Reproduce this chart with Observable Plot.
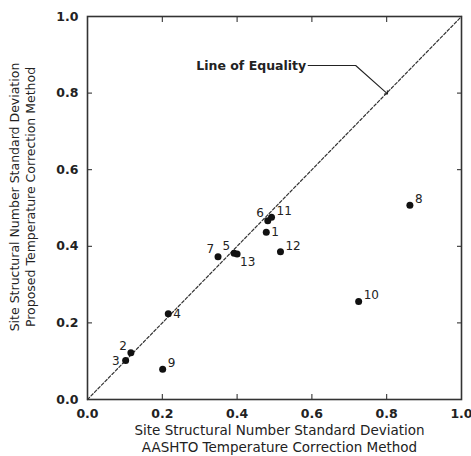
<!DOCTYPE html>
<html><head><meta charset="utf-8">
<script src="https://cdn.jsdelivr.net/npm/d3@7"></script>
<script src="https://cdn.jsdelivr.net/npm/@observablehq/plot@0.6"></script>
<style>
html,body{margin:0;padding:0;background:#fff;}
#chart{width:471px;height:456px;}
</style>
</head><body><div id="chart"></div>
<script>
// Site ids
const siteIds = ["1","2","3","4","5","6","7","8","9","10","11","12","13"];
// AASHTO method SN std dev (x)
const aashto = [0.478, 0.116, 0.102, 0.216, 0.392, 0.482, 0.349, 0.862, 0.201, 0.725, 0.492, 0.516, 0.400];
// Proposed method SN std dev (y)
const proposed = [0.437, 0.122, 0.102, 0.224, 0.382, 0.467, 0.373, 0.507, 0.079, 0.256, 0.476, 0.386, 0.380];
// label placement side for each site
const labelSide = ["r","ul","l","r","ul","ul","ul","ur","ur","ur","ur","ur","lr"];
const tickValues = [0, 0.2, 0.4, 0.6, 0.8, 1.0];
const equalityX = [0, 1];
const equalityY = [0, 1];
const annotationText = "Line of Equality";
const leaderX = [0.59, 0.717, 0.8];
const leaderY = [0.872, 0.872, 0.8];
const xLabel = ["Site Structural Number Standard Deviation", "AASHTO Temperature Correction Method"];
const yLabel = ["Site Structural Number Standard Deviation", "Proposed Temperature Correction Method"];

const pts = siteIds.map((id, i) => ({id, x: aashto[i], y: proposed[i], side: labelSide[i]}));
const eq = equalityX.map((x, i) => ({x, y: equalityY[i]}));
const leader = leaderX.map((x, i) => ({x, y: leaderY[i]}));

const offs = {
  r:  {dx: 5, dy: 0, anchor: "start"},
  l:  {dx: -6, dy: 1, anchor: "end"},
  ul: {dx: -4, dy: -7, anchor: "end"},
  ur: {dx: 5, dy: -6, anchor: "start"},
  lr: {dx: 3, dy: 8, anchor: "start"}
};
const labelMarks = Object.entries(offs).map(([k, o]) =>
  Plot.text(pts.filter(d => d.side === k), {x: "x", y: "y", text: "id", dx: o.dx, dy: o.dy, textAnchor: o.anchor, fontSize: 12, fill: "#222"})
);

const font = "'DejaVu Sans', sans-serif";
const plot = Plot.plot({
  width: 471, height: 456,
  marginLeft: 87, marginRight: 10, marginTop: 16, marginBottom: 57,
  style: {fontFamily: font, background: "#fff", color: "#222"},
  x: {domain: [0, 1], label: null},
  y: {domain: [0, 1], label: null},
  marks: [
    Plot.axisX({anchor: "bottom", ticks: tickValues, tickFormat: d3.format(".1f"), tickSize: -5, tickPadding: 15, fontSize: 12.5, fontWeight: "bold", label: null}),
    Plot.axisX({anchor: "top", ticks: tickValues, tickFormat: () => "", tickSize: -5, label: null}),
    Plot.axisY({anchor: "left", ticks: tickValues, tickFormat: d3.format(".1f"), tickSize: -5, tickPadding: 14, fontSize: 12.5, fontWeight: "bold", label: null}),
    Plot.axisY({anchor: "right", ticks: tickValues, tickFormat: () => "", tickSize: -5, label: null}),
    Plot.frame({stroke: "#333", strokeWidth: 1.6}),
    Plot.line(eq, {x: "x", y: "y", stroke: "#333", strokeWidth: 1.2, strokeDasharray: "3,2"}),
    Plot.line(leader, {x: "x", y: "y", stroke: "#222", strokeWidth: 1.1, markerEnd: "arrow"}),
    Plot.text([annotationText], {x: leaderX[0], y: leaderY[0], text: d => d, textAnchor: "end", fontSize: 12.5, fontWeight: "bold", dx: -2}),
    Plot.dot(pts, {x: "x", y: "y", r: 3.5, fill: "#111"}),
    ...labelMarks,
    Plot.text([xLabel.join("\n")], {frameAnchor: "bottom", text: d => d, textAnchor: "middle", lineAnchor: "bottom", dx: 5, dy: 52, fontSize: 13.5, lineHeight: 1.2}),
    Plot.text([yLabel.join("\n")], {frameAnchor: "left", text: d => d, rotate: -90, textAnchor: "middle", lineAnchor: "middle", dx: -66, dy: -11, fontSize: 12.5, lineHeight: 1.28})
  ]
});
document.getElementById("chart").append(plot);
</script>
</body></html>
